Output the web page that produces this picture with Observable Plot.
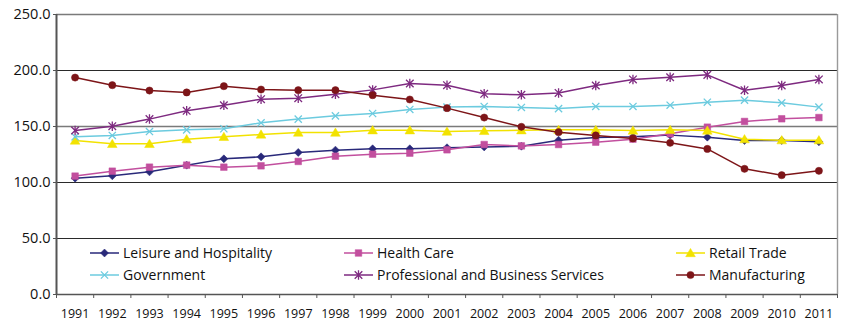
<!DOCTYPE html>
<html>
<head>
<meta charset="utf-8">
<script src="https://cdn.jsdelivr.net/npm/d3@7"></script>
<script src="https://cdn.jsdelivr.net/npm/@observablehq/plot@0.6"></script>
<style>
  html, body { margin: 0; padding: 0; background: #fff; }
  #chart { position: relative; width: 845px; height: 322px; font-family: "Open Sans", sans-serif; color: #111; }
  #chart svg.plot { display: block; }
  .legend-item { position: absolute; display: flex; align-items: center; font-size: 14px; white-space: nowrap; transform: translateY(-50%); line-height: 1; }
  .legend-item svg { margin-right: 4px; overflow: visible; }
</style>
</head>
<body>
<div id="chart"></div>
<script>
// Employment index by industry, 1991–2011
const years = [1991, 1992, 1993, 1994, 1995, 1996, 1997, 1998, 1999, 2000, 2001,
               2002, 2003, 2004, 2005, 2006, 2007, 2008, 2009, 2010, 2011];

const leisureHospitality = [103.9, 106.0, 109.5, 115.5, 121.1, 122.9, 126.8, 128.9, 130.1, 130.1, 131.0,
                            131.8, 132.4, 137.8, 140.2, 140.8, 142.3, 140.5, 137.5, 137.5, 136.3];
const healthCare = [105.7, 110.1, 113.7, 115.5, 113.7, 114.9, 118.8, 123.5, 125.3, 126.2, 129.2,
                    133.9, 132.7, 133.9, 136.0, 138.7, 143.5, 149.4, 154.5, 156.9, 158.0];
const retailTrade = [137.5, 134.5, 134.5, 138.7, 140.8, 142.9, 144.6, 144.6, 146.7, 146.7, 145.5,
                     146.1, 146.7, 147.0, 147.0, 146.4, 147.0, 146.4, 138.7, 137.8, 137.8];
const government = [140.8, 142.0, 145.5, 147.0, 148.0, 153.3, 156.6, 159.5, 161.6, 165.2, 167.3,
                    167.9, 167.0, 166.0, 167.9, 167.9, 169.0, 171.7, 173.5, 171.1, 167.3];
const professionalBusiness = [146.4, 150.3, 156.6, 164.0, 169.0, 174.4, 175.3, 178.9, 182.7, 188.4, 186.9,
                              179.2, 178.3, 180.0, 186.6, 192.0, 194.0, 196.1, 182.4, 186.6, 192.0];
const manufacturing = [193.7, 186.9, 182.1, 180.4, 186.0, 183.0, 182.4, 182.4, 178.0, 174.1, 166.4,
                       158.0, 149.7, 144.9, 142.0, 139.3, 135.4, 130.0, 112.2, 106.5, 110.4];

const seriesNames = ["Leisure and Hospitality", "Health Care", "Retail Trade",
                     "Government", "Professional and Business Services", "Manufacturing"];
const seriesValues = [leisureHospitality, healthCare, retailTrade, government, professionalBusiness, manufacturing];
const seriesColors = ["#29297a", "#c24f9e", "#f2e200", "#6ccbdf", "#7e2a80", "#7d1518"];

const yTicks = [0, 50, 100, 150, 200, 250];

// Marker shapes (size is π·r², as Plot passes it)
const rOf = size => Math.sqrt(size / Math.PI);
const diamondSym = { draw(c, s) { const r = rOf(s); c.moveTo(0, -r); c.lineTo(r, 0); c.lineTo(0, r); c.lineTo(-r, 0); c.closePath(); } };
const squareSym = { draw(c, s) { const r = rOf(s); c.rect(-r, -r, 2 * r, 2 * r); } };
const triangleSym = { draw(c, s) { const r = rOf(s); c.moveTo(0, -r); c.lineTo(r * 1.05, r * 0.8); c.lineTo(-r * 1.05, r * 0.8); c.closePath(); } };
const timesSym = { draw(c, s) { const r = rOf(s); c.moveTo(-r, -r); c.lineTo(r, r); c.moveTo(-r, r); c.lineTo(r, -r); } };
const asteriskSym = { draw(c, s) { const r = rOf(s); c.moveTo(-r, -r); c.lineTo(r, r); c.moveTo(-r, r); c.lineTo(r, -r); c.moveTo(0, -r * 1.25); c.lineTo(0, r * 1.25); } };
const circleSym = { draw(c, s) { const r = rOf(s); c.moveTo(r, 0); c.arc(0, 0, r, 0, 2 * Math.PI); } };

// symbol, radius, filled?
const seriesMarkers = [
  [diamondSym, 4.0, true],
  [squareSym, 3.3, true],
  [triangleSym, 4.6, true],
  [timesSym, 3.6, false],
  [asteriskSym, 3.8, false],
  [circleSym, 3.6, true]
];

const rows = [];
seriesNames.forEach((name, i) => {
  years.forEach((yr, j) => rows.push({ series: name, year: yr, value: seriesValues[i][j] }));
});

const xDomain = [years[0] - 0.5, years[years.length - 1] + 0.5];
const bandEdges = years.map(y => y - 0.5).concat([xDomain[1]]);
const gridDark = yTicks.filter(t => t > 0 && t !== 150 && t !== 250);
const gridLight = yTicks.filter(t => t === 150 || t === 250);

const marks = [
  Plot.ruleY(gridDark, { stroke: "#2a2a2a", strokeWidth: 1 }),
  Plot.ruleY(gridLight, { stroke: "#7a7a7a", strokeWidth: 1.6 }),
  Plot.ruleX([xDomain[1]], { y1: yTicks[0], y2: yTicks[yTicks.length - 1], stroke: "#9a9a9a", strokeWidth: 1.4 }),
  Plot.ruleX([xDomain[0]], { y1: yTicks[0], y2: yTicks[yTicks.length - 1], stroke: "#555", strokeWidth: 2 }),
  Plot.ruleY([0], { stroke: "#555", strokeWidth: 1.6 }),
  Plot.axisY({ ticks: yTicks, tickFormat: d => d.toFixed(1), tickSize: 3, tickPadding: 3, fontSize: 14.5, stroke: "#555", label: null }),
  Plot.axisX({ ticks: bandEdges, tickFormat: () => "", tickSize: 4, stroke: "#555", label: null }),
  Plot.axisX({ ticks: years, tickFormat: d => String(d), tickSize: 0, tickPadding: 15, fontSize: 12.5, label: null })
];

seriesNames.forEach((name, i) => {
  const data = rows.filter(d => d.series === name);
  const [sym, r, filled] = seriesMarkers[i];
  marks.push(Plot.line(data, { x: "year", y: "value", stroke: seriesColors[i], strokeWidth: 1.5 }));
  marks.push(Plot.dot(data, {
    x: "year", y: "value", symbol: () => sym, r,
    fill: filled ? seriesColors[i] : "none",
    stroke: seriesColors[i], strokeWidth: filled ? 0.5 : 1.3
  }));
});

const plot = Plot.plot({
  width: 845,
  height: 322,
  marginLeft: 56,
  marginRight: 8,
  marginTop: 14,
  marginBottom: 28,
  style: { fontFamily: "'Open Sans', sans-serif", color: "#111", background: "#fff" },
  x: { type: "linear", domain: xDomain, axis: null },
  y: { type: "linear", domain: [yTicks[0], yTicks[yTicks.length - 1]], axis: null },
  marks
});
plot.classList.add("plot");
const chart = document.getElementById("chart");
chart.appendChild(plot);

// Legend laid over the lower band of the plot: three columns, two rows
const legendCols = [90, 344, 676];
const legendRows = [252.7, 275];
const legendOrder = [[0, 0, 0], [1, 1, 0], [2, 2, 0], [3, 0, 1], [4, 1, 1], [5, 2, 1]];
legendOrder.forEach(([i, col, row]) => {
  const item = document.createElement("div");
  item.className = "legend-item";
  item.style.left = legendCols[col] + "px";
  item.style.top = legendRows[row] + "px";
  const [sym, r, filled] = seriesMarkers[i];
  const p = d3.path();
  sym.draw(p, Math.PI * r * r);
  const svg = d3.create("svg").attr("width", 29).attr("height", 12);
  svg.append("line").attr("x1", 0).attr("x2", 29).attr("y1", 6).attr("y2", 6)
    .attr("stroke", seriesColors[i]).attr("stroke-width", 1.5);
  svg.append("path").attr("d", p.toString()).attr("transform", "translate(14.5,6)")
    .attr("fill", filled ? seriesColors[i] : "none").attr("stroke", seriesColors[i])
    .attr("stroke-width", filled ? 0.5 : 1.3);
  item.appendChild(svg.node());
  const label = document.createElement("span");
  label.textContent = seriesNames[i];
  item.appendChild(label);
  chart.appendChild(item);
});
</script>
</body>
</html>
